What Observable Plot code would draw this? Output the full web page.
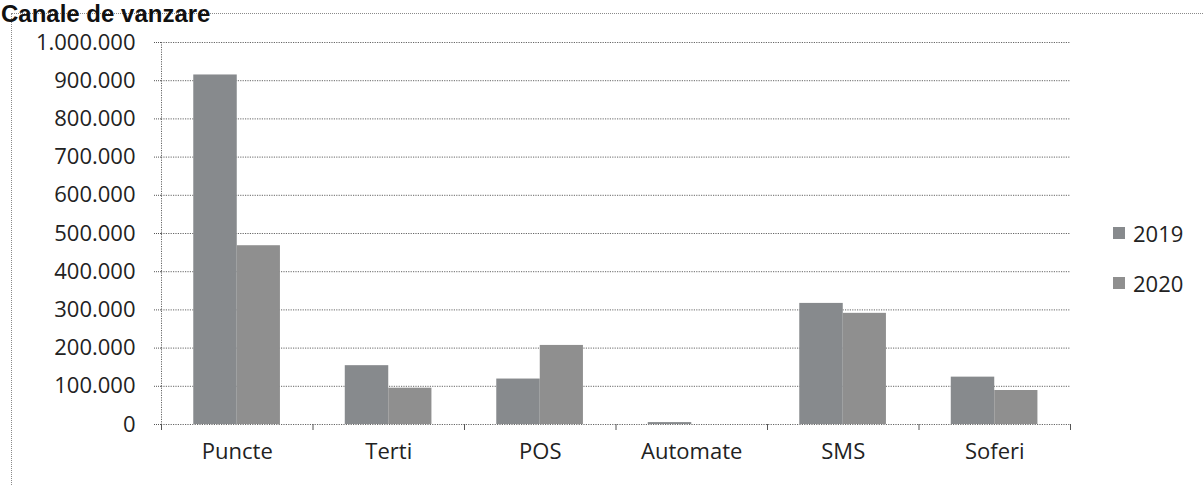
<!DOCTYPE html>
<html>
<head>
<meta charset="utf-8">
<script src="https://cdn.jsdelivr.net/npm/d3@7"></script>
<script src="https://cdn.jsdelivr.net/npm/@observablehq/plot@0.6"></script>
<style>
  html, body { margin: 0; padding: 0; background: #fff; }
  body { width: 1204px; height: 485px; overflow: hidden; position: relative; font-family: "Open Sans", sans-serif; }
  #title { position: absolute; left: 1px; top: 0px; font: bold 24px "Liberation Sans", Arial, sans-serif; line-height: 27px; color: #111; white-space: nowrap; z-index: 3; }
  #border { position: absolute; left: 11px; top: 13px; width: 1400px; height: 700px; border: 1px dotted #8a8a8a; z-index: 1; pointer-events: none; }
  #chart { position: absolute; left: 0; top: 0; z-index: 2; }
  .legend { position: absolute; left: 1113px; z-index: 3; display: flex; align-items: center; font: 22px "Open Sans", sans-serif; color: #222; }
  .legend span.sw { display: inline-block; width: 12px; height: 12px; margin-right: 8px; }
</style>
</head>
<body>
<div id="title">Canale de vanzare</div>
<div id="border"></div>
<div id="chart"></div>
<script>
// --- data ---
const categories = ["Puncte", "Terti", "POS", "Automate", "SMS", "Soferi"];
const years = ["2019", "2020"];
const values2019 = [915000, 154000, 119000, 5000, 317000, 124000];
const values2020 = [468000, 95000, 207000, 0, 291000, 89000];
const yTicks = [0, 100000, 200000, 300000, 400000, 500000, 600000, 700000, 800000, 900000, 1000000];
const seriesColors = ["#878a8d", "#8f8f8f"];

const rows = [];
categories.forEach((c, i) => {
  rows.push({category: c, index: i, year: years[0], value: values2019[i]});
  rows.push({category: c, index: i, year: years[1], value: values2020[i]});
});

const locale = d3.formatLocale({decimal: ",", thousands: ".", grouping: [3], currency: ["", ""]});
const fmt = locale.format(",d");

const boundaries = d3.range(categories.length + 1);
const centers = categories.map((c, i) => i + 0.5);

const chart = Plot.plot({
  width: 1204,
  height: 485,
  marginLeft: 161,
  marginRight: 134,
  marginTop: 42,
  marginBottom: 61,
  style: {background: "transparent", fontFamily: "'Open Sans', sans-serif", color: "#222"},
  x: {type: "linear", domain: [0, categories.length], label: null},
  y: {domain: [0, 1000000], label: null},
  color: {domain: years, range: seriesColors},
  marks: [
    Plot.ruleY(yTicks, {stroke: "#555", strokeWidth: 1, strokeDasharray: "1.2,1.2", strokeOpacity: 0.9}),
    Plot.ruleX([0], {stroke: "#666", strokeWidth: 1, strokeDasharray: "1.2,1.2"}),
    Plot.rectY(rows, {
      x1: d => d.index + (d.year === years[0] ? 0.213 : 0.5),
      x2: d => d.index + (d.year === years[0] ? 0.5 : 0.785),
      y1: 0,
      y2: "value",
      fill: "year"
    }),
    Plot.axisY({ticks: yTicks, tickFormat: fmt, tickSize: 8, tickPadding: 18, fontSize: 22, stroke: "#555", strokeDasharray: "1,1", fill: "#222", label: null}),
    Plot.axisX({ticks: boundaries, tickFormat: () => "", tickSize: 6, stroke: "#555", label: null}),
    Plot.axisX({ticks: centers, tickFormat: v => categories[Math.floor(v)], tickSize: 0, tickPadding: 19, fontSize: 22, fill: "#222", label: null})
  ]
});
document.getElementById("chart").appendChild(chart);

// legend
const legendTops = [233, 283];
years.forEach((y, i) => {
  const div = document.createElement("div");
  div.className = "legend";
  div.style.top = (legendTops[i] - 16) + "px";
  div.style.height = "32px";
  div.innerHTML = `<span class="sw" style="background:${seriesColors[i]}"></span><span>${y}</span>`;
  document.body.appendChild(div);
});
</script>
</body>
</html>
